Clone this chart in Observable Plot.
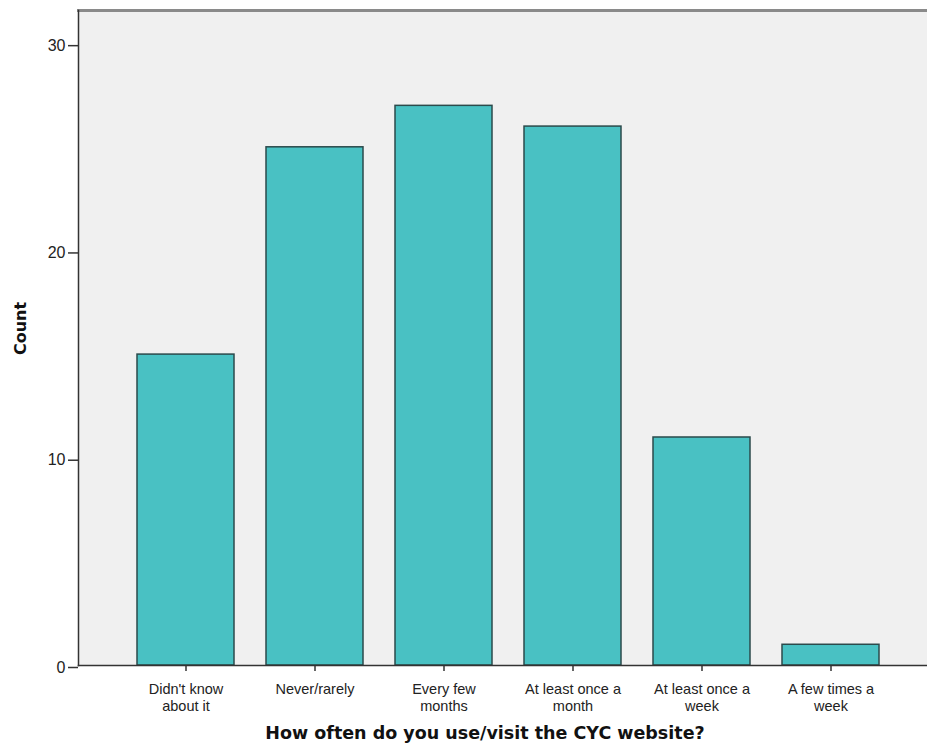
<!DOCTYPE html>
<html>
<head>
<meta charset="utf-8">
<script src="https://cdn.jsdelivr.net/npm/d3@7"></script>
<script src="https://cdn.jsdelivr.net/npm/@observablehq/plot@0.6"></script>
<style>
  html, body { margin: 0; padding: 0; background: #fff; }
  svg { display: block; }
</style>
</head>
<body>
<div id="chart"></div>
<script>
const categories = ["Didn't know about it", "Never/rarely", "Every few months", "At least once a month", "At least once a week", "A few times a week"];
const tickLabels = ["Didn't know\nabout it", "Never/rarely", "Every few\nmonths", "At least once a\nmonth", "At least once a\nweek", "A few times a\nweek"];
const counts = [15, 25, 27, 26, 11, 1];
const yTicks = [0, 10, 20, 30];
const xTitle = "How often do you use/visit the CYC website?";
const yTitle = "Count";

const data = categories.map((c, i) => ({category: c, count: counts[i]}));
const labelOf = new Map(categories.map((c, i) => [c, tickLabels[i]]));

const chart = Plot.plot({
  width: 927,
  height: 751,
  marginLeft: 78,
  marginRight: 0,
  marginTop: 10,
  marginBottom: 86,
  style: {fontFamily: "'Liberation Sans', Arial, sans-serif", fontSize: "15px", color: "#222", background: "#fff"},
  x: {domain: categories, range: [78, 938], paddingInner: 0.25, paddingOuter: 0.45, axis: null},
  y: {domain: [0, 31.6], axis: null},
  marks: [
    Plot.frame({fill: "#f0f0f0", stroke: null}),
    Plot.barY(data, {x: "category", y: "count", fill: "#49c1c3", stroke: "#2b4a4b", strokeWidth: 1.5}),
    Plot.frame({anchor: "top", stroke: "#8a8a8a", strokeWidth: 3}),
    Plot.frame({anchor: "left", stroke: "#333", strokeWidth: 1.5}),
    Plot.frame({anchor: "bottom", stroke: "#333", strokeWidth: 1.5}),
    Plot.axisY({ticks: yTicks, tickSize: 10, tickPadding: 3, stroke: "#333", strokeWidth: 1.5, fontSize: 16, dy: 2, label: null, tickFormat: d => d}),
    Plot.axisX({tickSize: 6, tickPadding: 11, stroke: "#333", strokeWidth: 1.5, fontSize: 14.5, lineHeight: 1.15, label: null, tickFormat: d => labelOf.get(d)}),
    Plot.text([xTitle], {frameAnchor: "bottom", text: d => d, dy: 73, dx: -18, fontFamily: "'DejaVu Sans', Verdana, sans-serif", fontWeight: "bold", fontSize: 17.5, fill: "#111"}),
    Plot.text([yTitle], {frameAnchor: "left", text: d => d, textAnchor: "middle", dx: -58, dy: -9.5, rotate: -90, fontFamily: "'DejaVu Sans', Verdana, sans-serif", fontWeight: "bold", fontSize: 16, fill: "#111"})
  ]
});
document.getElementById("chart").appendChild(chart);
</script>
</body>
</html>
